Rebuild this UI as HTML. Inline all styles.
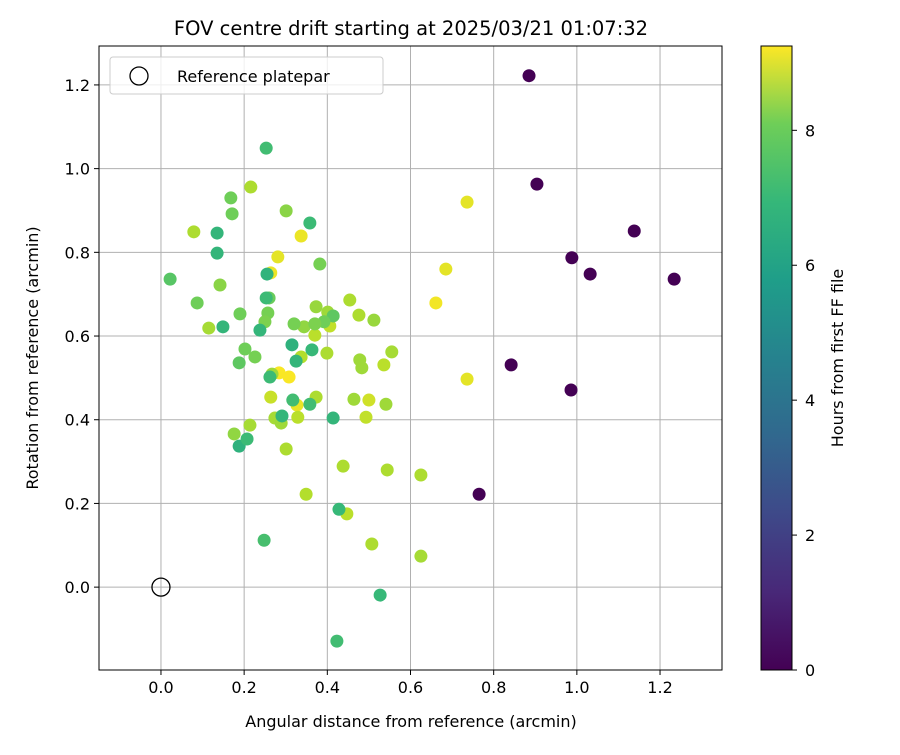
<!DOCTYPE html>
<html><head><meta charset="utf-8"><style>
body{margin:0;background:#fff}
svg{font-family:"DejaVu Sans","Liberation Sans",sans-serif}
</style></head><body>
<svg id="c" width="900" height="750">
<defs><linearGradient id="vir" x1="0" y1="1" x2="0" y2="0">
<stop offset="0" stop-color="#440154"/><stop offset="0.125" stop-color="#482878"/><stop offset="0.25" stop-color="#3e4989"/><stop offset="0.375" stop-color="#31688e"/><stop offset="0.5" stop-color="#26828e"/><stop offset="0.625" stop-color="#1f9e89"/><stop offset="0.75" stop-color="#35b779"/><stop offset="0.875" stop-color="#6ece58"/><stop offset="1" stop-color="#fde725"/></linearGradient></defs>
</svg>
<script>
const xs=[0.885,0.904,0.988,1.032,1.138,1.234,0.842,0.986,0.765,
0.736,0.685,0.661,0.736,0.337,0.281,0.264,0.284,0.308,0.327,
0.216,0.079,0.454,0.476,0.337,0.483,0.478,0.536,0.555,0.464,0.493,0.500,0.541,0.544,0.625,0.625,0.438,0.447,0.507,0.349,0.301,0.267,0.264,0.274,0.289,0.329,0.214,0.176,0.406,0.401,0.373,0.370,0.344,0.399,0.373,0.512,0.115,0.142,
0.168,0.171,0.301,0.022,0.087,0.190,0.257,0.260,0.250,0.382,0.414,0.202,0.226,0.188,0.320,0.392,0.370,
0.253,0.358,0.135,0.135,0.149,0.255,0.253,0.238,0.315,0.325,0.363,0.262,0.291,0.317,0.358,0.414,0.188,0.207,0.428,0.527,0.423,0.248];
const ys=[1.222,0.963,0.787,0.748,0.851,0.736,0.531,0.471,0.222,
0.920,0.760,0.679,0.497,0.839,0.789,0.751,0.512,0.502,0.435,
0.956,0.849,0.686,0.650,0.550,0.524,0.543,0.531,0.562,0.449,0.406,0.447,0.437,0.280,0.268,0.074,0.289,0.175,0.103,0.222,0.330,0.509,0.454,0.404,0.392,0.406,0.387,0.366,0.624,0.657,0.670,0.602,0.622,0.559,0.454,0.638,0.619,0.722,
0.930,0.892,0.899,0.736,0.679,0.653,0.655,0.691,0.634,0.772,0.648,0.569,0.550,0.536,0.629,0.634,0.629,
1.049,0.870,0.846,0.798,0.622,0.748,0.691,0.614,0.579,0.540,0.567,0.502,0.409,0.447,0.437,0.404,0.337,0.354,0.186,-0.019,-0.129,0.112];
const hours=[0,0,0,0,0,0,0,0,0,
8.9,8.9,9.1,8.9,9.0,8.9,9.0,9.2,9.2,9.0,
8.1,8.1,8.1,8.1,8.2,7.9,7.9,8.3,8.0,7.9,8.4,8.6,7.9,8.1,8.1,8.0,8.1,8.3,8.1,8.2,8.1,7.9,8.5,8.0,7.9,8.3,8.0,7.7,8.4,7.9,7.8,8.3,7.7,8.1,8.1,7.8,8.0,7.6,
7.2,7.2,7.6,6.8,7.2,7.2,7.3,7.1,7.4,7.3,6.9,7.2,7.3,6.9,7.3,7.2,7.4,
6.4,6.3,6.1,6.1,6.1,6.0,6.3,6.1,5.9,6.1,6.2,6.3,6.1,6.4,6.4,6.1,5.9,6.3,6.2,6.2,6.4,6.5];
const xTicks=[0.0,0.2,0.4,0.6,0.8,1.0,1.2];
const yTicks=[0.0,0.2,0.4,0.6,0.8,1.0,1.2];
const cTicks=[0,2,4,6,8];
const L=99,R=722,T=46,B=670,xmin=-0.149,xmax=1.349,ymin=-0.198,ymax=1.293,cmax=9.25;
const X=v=>L+(v-xmin)/(xmax-xmin)*(R-L), Y=v=>B-(v-ymin)/(ymax-ymin)*(B-T), CY=v=>B-v/cmax*(B-T);
const stops=[[68,1,84],[72,40,120],[62,73,137],[49,104,142],[38,130,142],[31,158,137],[53,183,121],[110,206,88],[181,222,43],[253,231,37]];
function vir(t){t=Math.max(0,Math.min(1,t))*(stops.length-1);const i=Math.min(stops.length-2,Math.floor(t)),f=t-i;const c=stops[i].map((a,k)=>Math.round(a+(stops[i+1][k]-a)*f));return `rgb(${c})`;}
const svg=document.getElementById('c'),NS='http://www.w3.org/2000/svg';
function el(tag,a,txt){const e=document.createElementNS(NS,tag);for(const k in a)e.setAttribute(k,a[k]);if(txt!==undefined)e.textContent=txt;svg.appendChild(e);return e;}
xTicks.forEach(v=>{const g=el('line',{x1:X(v),x2:X(v),y1:T,y2:B,stroke:'#b0b0b0','stroke-width':1});

const tk=el('line',{x1:X(v),x2:X(v),y1:B,y2:B+5,stroke:'#000'});
const t=el('text',{x:X(v),y:B+23,'text-anchor':'middle','font-size':16},v.toFixed(1));});
yTicks.forEach(v=>{const g=el('line',{x1:L,x2:R,y1:Y(v),y2:Y(v),stroke:'#b0b0b0','stroke-width':1});

const tk=el('line',{x1:L-5,x2:L,y1:Y(v),y2:Y(v),stroke:'#000'});
const t=el('text',{x:L-9,y:Y(v)+6,'text-anchor':'end','font-size':16},v.toFixed(1));});
xs.forEach((x,i)=>{const c=el('circle',{cx:X(x),cy:Y(ys[i]),r:6.5,fill:vir(hours[i]/cmax)});
});
const ref=el('circle',{cx:X(0),cy:Y(0),r:9,fill:'none',stroke:'#000','stroke-width':1.3});

const fr=el('rect',{x:L,y:T,width:R-L,height:B-T,fill:'none',stroke:'#000','stroke-width':1});

const lg=el('rect',{x:110,y:57,width:273,height:37,rx:3,fill:'#fff','fill-opacity':0.8,stroke:'#ccc'});

const lm=el('circle',{cx:139,cy:76,r:9,fill:'none',stroke:'#000','stroke-width':1.3});

const lt=el('text',{x:177,y:82,'font-size':16},'Reference platepar');

const ti=el('text',{x:411,y:35,'text-anchor':'middle','font-size':19.5},'FOV centre drift starting at 2025/03/21 01:07:32');

const xt=el('text',{x:411,y:727,'text-anchor':'middle','font-size':16},'Angular distance from reference (arcmin)');

const yt=el('text',{x:0,y:0,'text-anchor':'middle','font-size':16,transform:`translate(38,${(T+B)/2}) rotate(-90)`},'Rotation from reference (arcmin)');

const cb=el('rect',{x:761,y:T,width:31,height:B-T,fill:'url(#vir)',stroke:'#000','stroke-width':1});

cTicks.forEach(v=>{const tk=el('line',{x1:792,x2:797,y1:CY(v),y2:CY(v),stroke:'#000'});
const t=el('text',{x:805,y:CY(v)+6,'font-size':16},String(v));});
const ct=el('text',{x:0,y:0,'text-anchor':'middle','font-size':16,transform:`translate(843,${(T+B)/2}) rotate(-90)`},'Hours from first FF file');

</script>
</body></html>
